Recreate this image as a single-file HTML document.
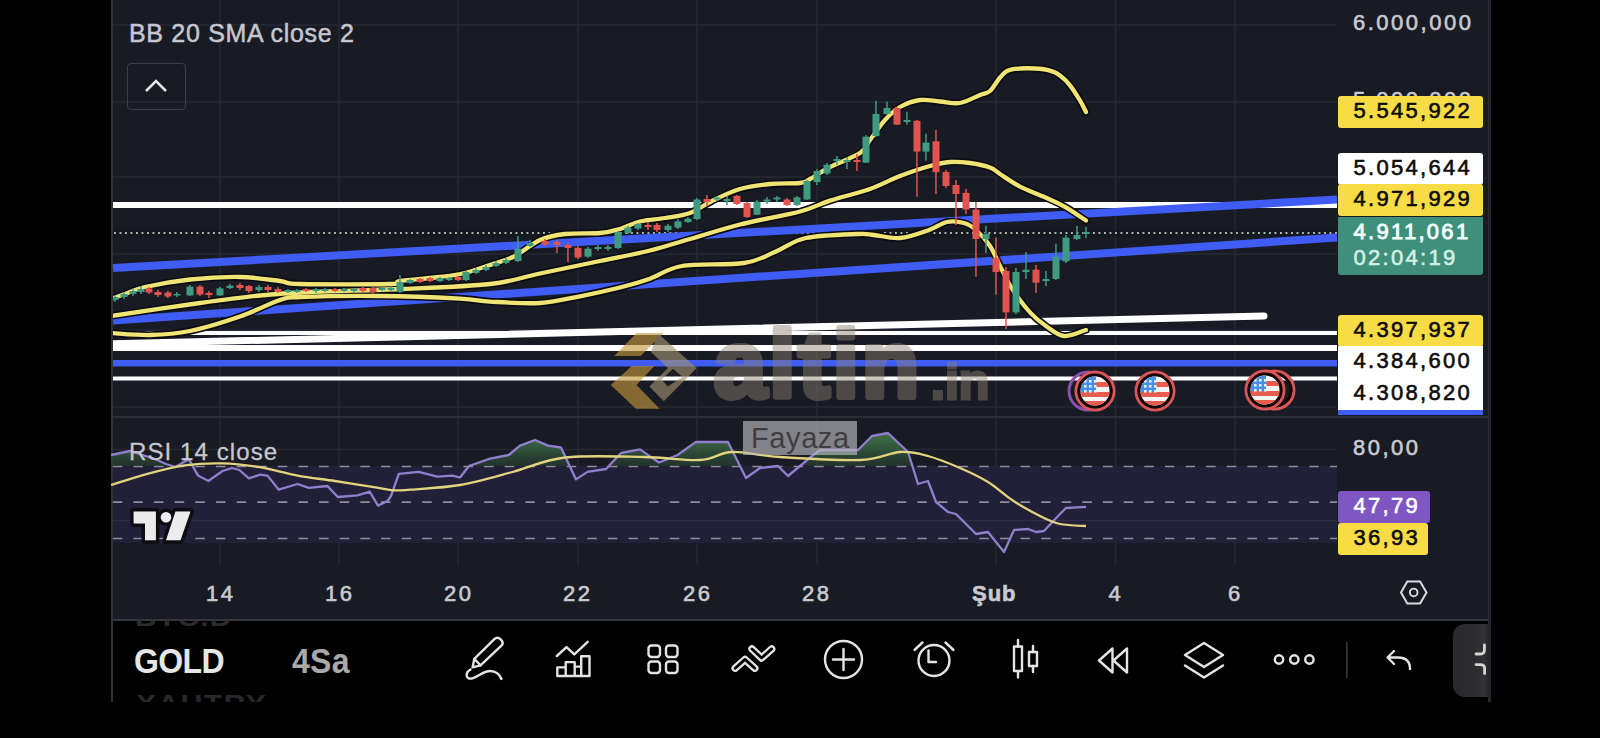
<!DOCTYPE html>
<html><head><meta charset="utf-8">
<style>
*{margin:0;padding:0;box-sizing:border-box}
html,body{width:1600px;height:738px;background:#000;overflow:hidden;font-family:"Liberation Sans",sans-serif}
.abs{position:absolute}
.t{position:absolute;white-space:nowrap;line-height:1}
.ax{color:#c9cad0;font-size:22px;letter-spacing:2.5px;-webkit-text-stroke:0.6px currentColor}
.lab{position:absolute;left:1338px;width:145px;height:32px;border-radius:3px;font-size:22px;color:#0c0c0c;padding-left:15.5px;line-height:29px;letter-spacing:2.3px;-webkit-text-stroke:0.6px currentColor}
</style></head><body>
<svg class="abs" style="left:0;top:0" width="1600" height="738" viewBox="0 0 1600 738">
  <defs>
    <clipPath id="chartclip"><rect x="113" y="0" width="1224" height="416"/></clipPath>
    <linearGradient id="gfill" x1="0" y1="440" x2="0" y2="466" gradientUnits="userSpaceOnUse">
      <stop offset="0" stop-color="#3d6b45" stop-opacity="0.95"/>
      <stop offset="1" stop-color="#2c4a36" stop-opacity="0.5"/>
    </linearGradient>
  </defs>
  <rect x="111" y="0" width="1380" height="619" fill="#181a24"/>
  <!-- panel borders -->
  <rect x="111" y="0" width="2" height="702" fill="#303137"/>
  <rect x="1488" y="0" width="3" height="702" fill="#26262c"/>
  <!-- grid -->
  <g stroke="#262833" stroke-width="1.5">
    <line x1="113" y1="25" x2="1337" y2="25"/>
    <line x1="113" y1="102" x2="1337" y2="102"/>
    <line x1="113" y1="177" x2="1337" y2="177"/>
    <line x1="113" y1="254" x2="1337" y2="254"/>
    <line x1="113" y1="330" x2="1337" y2="330"/>
    <line x1="113" y1="407" x2="1337" y2="407"/>
    <line x1="113" y1="449.5" x2="1337" y2="449.5"/>
    <line x1="220" y1="0" x2="220" y2="565"/>
    <line x1="339" y1="0" x2="339" y2="565"/>
    <line x1="458" y1="0" x2="458" y2="565"/>
    <line x1="578" y1="0" x2="578" y2="565"/>
    <line x1="697" y1="0" x2="697" y2="565"/>
    <line x1="817" y1="0" x2="817" y2="565"/>
    <line x1="996" y1="0" x2="996" y2="565"/>
    <line x1="1115.5" y1="0" x2="1115.5" y2="565"/>
    <line x1="1235" y1="0" x2="1235" y2="565"/>
  </g>
  <!-- pane separator -->
  <rect x="113" y="416" width="1375" height="2" fill="#2a2c36"/>
  <!-- RSI band -->
  <rect x="113" y="466" width="1224" height="77" fill="#222038"/>
  <line x1="113" y1="520.5" x2="1337" y2="520.5" stroke="#2e2c48" stroke-width="1.5"/>
  <g stroke="#8f8d9c" stroke-width="1.7" stroke-dasharray="9.5 11.13">
    <line x1="112.8" y1="466.5" x2="1337" y2="466.5"/>
    <line x1="112.8" y1="502.2" x2="1337" y2="502.2"/>
    <line x1="112.8" y1="538.5" x2="1337" y2="538.5"/>
  </g>
  <!-- horizontal drawings -->
  <rect x="113" y="202" width="1224" height="6" fill="#fff"/>
  <rect x="113" y="331" width="1224" height="4" fill="#fff"/>
  <rect x="113" y="345" width="1224" height="6" fill="#fff"/>
  <rect x="113" y="360" width="1224" height="6.5" fill="#3f5cf5"/>
  <rect x="113" y="376.5" width="1224" height="4" fill="#fff"/>
  <!-- diagonal white -->
  <line x1="104" y1="344" x2="1264" y2="316" stroke="#fff" stroke-width="7" stroke-linecap="round"/>
  <rect x="0" y="300" width="113" height="60" fill="#000"/>
  <rect x="111" y="300" width="2" height="60" fill="#303137"/>
  <!-- current price dotted -->
  <line x1="113" y1="233" x2="1337" y2="233" stroke="#11151a" stroke-opacity="0.5" stroke-width="7"/><line x1="114" y1="233" x2="1337" y2="233" stroke="#a9bbb4" stroke-width="1.9" stroke-dasharray="1.9 3.6"/>
  <!-- blue diagonals -->
  <line x1="113" y1="268" x2="1337" y2="199.5" stroke="#3f5cf5" stroke-width="8"/>
  <line x1="113" y1="320.5" x2="1337" y2="237.5" stroke="#3f5cf5" stroke-width="8"/>
  <g clip-path="url(#chartclip)">
<g fill="none" stroke-linejoin="round" stroke-linecap="round">
<path d="M111.0,333.0 C117.5,333.3 136.8,335.3 150.0,335.0 C163.2,334.7 175.0,334.1 190.0,331.0 C205.0,327.9 225.0,321.7 240.0,316.5 C255.0,311.3 270.0,303.2 280.0,300.0 C290.0,296.8 283.3,297.7 300.0,297.0 C316.7,296.3 353.3,295.7 380.0,296.0 C406.7,296.3 441.7,297.7 460.0,298.6 C478.3,299.5 476.7,300.9 490.0,301.6 C503.3,302.3 525.0,303.9 540.0,303.0 C555.0,302.1 566.7,298.9 580.0,296.3 C593.3,293.7 608.3,290.4 620.0,287.5 C631.7,284.6 639.7,282.3 650.0,278.7 C660.3,275.1 666.3,268.6 682.0,266.0 C697.7,263.4 728.3,265.4 744.0,263.0 C759.7,260.6 765.7,255.7 776.0,251.5 C786.3,247.3 792.3,240.9 806.0,238.0 C819.7,235.1 846.7,234.5 858.0,234.0 C869.3,233.5 867.0,234.3 874.0,235.0 C881.0,235.7 890.8,238.8 900.0,238.0 C909.2,237.2 921.2,232.7 929.0,230.0 C936.8,227.3 941.2,223.2 947.0,222.0 C952.8,220.8 959.2,221.7 964.0,223.0 C968.8,224.3 971.7,226.2 976.0,230.0 C980.3,233.8 985.7,239.3 990.0,246.0 C994.3,252.7 998.3,262.9 1002.0,270.0 C1005.7,277.1 1007.3,281.5 1012.0,288.6 C1016.7,295.7 1024.3,306.2 1030.0,312.4 C1035.7,318.6 1040.3,322.1 1046.0,326.0 C1051.7,329.9 1057.3,335.3 1064.0,336.0 C1070.7,336.7 1082.3,331.0 1086.0,330.0" stroke="#0b0b12" stroke-width="7.5"/>
<path d="M111.0,316.0 C125.8,313.8 175.2,306.4 200.0,303.0 C224.8,299.6 241.7,297.3 260.0,295.5 C278.3,293.7 286.7,293.1 310.0,292.0 C333.3,290.9 370.0,290.3 400.0,289.0 C430.0,287.7 466.7,286.6 490.0,284.0 C513.3,281.4 521.7,277.3 540.0,273.5 C558.3,269.7 581.7,264.8 600.0,261.0 C618.3,257.2 635.0,254.2 650.0,250.5 C665.0,246.8 675.0,243.3 690.0,239.0 C705.0,234.7 721.7,229.1 740.0,224.5 C758.3,219.9 785.0,215.5 800.0,211.5 C815.0,207.5 818.3,204.3 830.0,200.6 C841.7,196.8 858.3,193.1 870.0,189.0 C881.7,184.9 890.0,179.8 900.0,176.0 C910.0,172.2 921.7,168.3 930.0,166.0 C938.3,163.7 943.3,162.5 950.0,162.0 C956.7,161.5 963.3,162.1 970.0,163.0 C976.7,163.9 985.0,165.7 990.0,167.5 C995.0,169.3 995.0,170.8 1000.0,174.0 C1005.0,177.2 1012.5,182.7 1020.0,186.6 C1027.5,190.5 1037.5,193.9 1045.0,197.3 C1052.5,200.7 1058.2,202.9 1065.0,206.8 C1071.8,210.7 1082.5,218.2 1086.0,220.5" stroke="#0b0b12" stroke-width="7.5"/>
<path d="M111.0,299.0 C113.3,298.2 119.3,296.0 125.0,294.0 C130.7,292.0 134.2,289.4 145.0,287.0 C155.8,284.6 174.2,281.2 190.0,279.5 C205.8,277.8 225.0,276.8 240.0,277.0 C255.0,277.2 270.0,279.8 280.0,281.0 C290.0,282.2 281.7,283.5 300.0,284.0 C318.3,284.5 373.3,284.5 390.0,284.0 C406.7,283.5 391.7,282.2 400.0,281.0 C408.3,279.8 429.2,278.3 440.0,277.0 C450.8,275.7 456.7,275.0 465.0,273.0 C473.3,271.0 481.7,267.8 490.0,265.0 C498.3,262.2 506.7,260.2 515.0,256.0 C523.3,251.8 531.7,243.7 540.0,240.0 C548.3,236.3 555.0,235.2 565.0,234.0 C575.0,232.8 590.8,233.8 600.0,233.0 C609.2,232.2 613.3,230.9 620.0,229.0 C626.7,227.1 632.5,223.3 640.0,221.5 C647.5,219.7 656.7,219.4 665.0,218.0 C673.3,216.6 682.2,215.8 690.0,213.0 C697.8,210.2 703.7,205.0 712.0,201.0 C720.3,197.0 730.3,191.8 740.0,189.0 C749.7,186.2 760.0,185.0 770.0,184.0 C780.0,183.0 793.3,183.8 800.0,183.0 C806.7,182.2 805.0,181.7 810.0,179.0 C815.0,176.3 821.7,171.3 830.0,167.0 C838.3,162.7 853.3,157.5 860.0,153.0 C866.7,148.5 865.8,145.5 870.0,140.0 C874.2,134.5 880.0,125.5 885.0,120.0 C890.0,114.5 894.2,110.3 900.0,107.0 C905.8,103.7 913.3,100.9 920.0,100.0 C926.7,99.1 933.3,101.0 940.0,101.5 C946.7,102.0 953.3,104.1 960.0,103.0 C966.7,101.9 975.0,97.0 980.0,95.0 C985.0,93.0 986.7,93.9 990.0,91.0 C993.3,88.1 997.0,80.9 1000.0,77.5 C1003.0,74.1 1004.7,72.0 1008.0,70.5 C1011.3,69.0 1015.5,68.8 1020.0,68.5 C1024.5,68.2 1030.0,68.2 1035.0,68.5 C1040.0,68.8 1045.8,69.4 1050.0,70.6 C1054.2,71.8 1056.7,73.0 1060.0,75.4 C1063.3,77.9 1066.7,81.1 1070.0,85.3 C1073.3,89.5 1077.3,96.0 1080.0,100.5 C1082.7,105.0 1085.0,110.1 1086.0,112.0" stroke="#0b0b12" stroke-width="7.5"/>
<path d="M111.0,333.0 C117.5,333.3 136.8,335.3 150.0,335.0 C163.2,334.7 175.0,334.1 190.0,331.0 C205.0,327.9 225.0,321.7 240.0,316.5 C255.0,311.3 270.0,303.2 280.0,300.0 C290.0,296.8 283.3,297.7 300.0,297.0 C316.7,296.3 353.3,295.7 380.0,296.0 C406.7,296.3 441.7,297.7 460.0,298.6 C478.3,299.5 476.7,300.9 490.0,301.6 C503.3,302.3 525.0,303.9 540.0,303.0 C555.0,302.1 566.7,298.9 580.0,296.3 C593.3,293.7 608.3,290.4 620.0,287.5 C631.7,284.6 639.7,282.3 650.0,278.7 C660.3,275.1 666.3,268.6 682.0,266.0 C697.7,263.4 728.3,265.4 744.0,263.0 C759.7,260.6 765.7,255.7 776.0,251.5 C786.3,247.3 792.3,240.9 806.0,238.0 C819.7,235.1 846.7,234.5 858.0,234.0 C869.3,233.5 867.0,234.3 874.0,235.0 C881.0,235.7 890.8,238.8 900.0,238.0 C909.2,237.2 921.2,232.7 929.0,230.0 C936.8,227.3 941.2,223.2 947.0,222.0 C952.8,220.8 959.2,221.7 964.0,223.0 C968.8,224.3 971.7,226.2 976.0,230.0 C980.3,233.8 985.7,239.3 990.0,246.0 C994.3,252.7 998.3,262.9 1002.0,270.0 C1005.7,277.1 1007.3,281.5 1012.0,288.6 C1016.7,295.7 1024.3,306.2 1030.0,312.4 C1035.7,318.6 1040.3,322.1 1046.0,326.0 C1051.7,329.9 1057.3,335.3 1064.0,336.0 C1070.7,336.7 1082.3,331.0 1086.0,330.0" stroke="#f0e474" stroke-width="4.3"/>
<path d="M111.0,316.0 C125.8,313.8 175.2,306.4 200.0,303.0 C224.8,299.6 241.7,297.3 260.0,295.5 C278.3,293.7 286.7,293.1 310.0,292.0 C333.3,290.9 370.0,290.3 400.0,289.0 C430.0,287.7 466.7,286.6 490.0,284.0 C513.3,281.4 521.7,277.3 540.0,273.5 C558.3,269.7 581.7,264.8 600.0,261.0 C618.3,257.2 635.0,254.2 650.0,250.5 C665.0,246.8 675.0,243.3 690.0,239.0 C705.0,234.7 721.7,229.1 740.0,224.5 C758.3,219.9 785.0,215.5 800.0,211.5 C815.0,207.5 818.3,204.3 830.0,200.6 C841.7,196.8 858.3,193.1 870.0,189.0 C881.7,184.9 890.0,179.8 900.0,176.0 C910.0,172.2 921.7,168.3 930.0,166.0 C938.3,163.7 943.3,162.5 950.0,162.0 C956.7,161.5 963.3,162.1 970.0,163.0 C976.7,163.9 985.0,165.7 990.0,167.5 C995.0,169.3 995.0,170.8 1000.0,174.0 C1005.0,177.2 1012.5,182.7 1020.0,186.6 C1027.5,190.5 1037.5,193.9 1045.0,197.3 C1052.5,200.7 1058.2,202.9 1065.0,206.8 C1071.8,210.7 1082.5,218.2 1086.0,220.5" stroke="#f0e474" stroke-width="4.3"/>
<path d="M111.0,299.0 C113.3,298.2 119.3,296.0 125.0,294.0 C130.7,292.0 134.2,289.4 145.0,287.0 C155.8,284.6 174.2,281.2 190.0,279.5 C205.8,277.8 225.0,276.8 240.0,277.0 C255.0,277.2 270.0,279.8 280.0,281.0 C290.0,282.2 281.7,283.5 300.0,284.0 C318.3,284.5 373.3,284.5 390.0,284.0 C406.7,283.5 391.7,282.2 400.0,281.0 C408.3,279.8 429.2,278.3 440.0,277.0 C450.8,275.7 456.7,275.0 465.0,273.0 C473.3,271.0 481.7,267.8 490.0,265.0 C498.3,262.2 506.7,260.2 515.0,256.0 C523.3,251.8 531.7,243.7 540.0,240.0 C548.3,236.3 555.0,235.2 565.0,234.0 C575.0,232.8 590.8,233.8 600.0,233.0 C609.2,232.2 613.3,230.9 620.0,229.0 C626.7,227.1 632.5,223.3 640.0,221.5 C647.5,219.7 656.7,219.4 665.0,218.0 C673.3,216.6 682.2,215.8 690.0,213.0 C697.8,210.2 703.7,205.0 712.0,201.0 C720.3,197.0 730.3,191.8 740.0,189.0 C749.7,186.2 760.0,185.0 770.0,184.0 C780.0,183.0 793.3,183.8 800.0,183.0 C806.7,182.2 805.0,181.7 810.0,179.0 C815.0,176.3 821.7,171.3 830.0,167.0 C838.3,162.7 853.3,157.5 860.0,153.0 C866.7,148.5 865.8,145.5 870.0,140.0 C874.2,134.5 880.0,125.5 885.0,120.0 C890.0,114.5 894.2,110.3 900.0,107.0 C905.8,103.7 913.3,100.9 920.0,100.0 C926.7,99.1 933.3,101.0 940.0,101.5 C946.7,102.0 953.3,104.1 960.0,103.0 C966.7,101.9 975.0,97.0 980.0,95.0 C985.0,93.0 986.7,93.9 990.0,91.0 C993.3,88.1 997.0,80.9 1000.0,77.5 C1003.0,74.1 1004.7,72.0 1008.0,70.5 C1011.3,69.0 1015.5,68.8 1020.0,68.5 C1024.5,68.2 1030.0,68.2 1035.0,68.5 C1040.0,68.8 1045.8,69.4 1050.0,70.6 C1054.2,71.8 1056.7,73.0 1060.0,75.4 C1063.3,77.9 1066.7,81.1 1070.0,85.3 C1073.3,89.5 1077.3,96.0 1080.0,100.5 C1082.7,105.0 1085.0,110.1 1086.0,112.0" stroke="#f0e474" stroke-width="4.3"/>
</g>
<rect x="114.2" y="295.0" width="1.5" height="7.0" fill="#3f9a80"/>
<rect x="111.5" y="297.0" width="7" height="3.0" fill="#3f9a80"/>
<rect x="123.2" y="292.0" width="1.5" height="7.0" fill="#3f9a80"/>
<rect x="120.5" y="294.0" width="7" height="3.0" fill="#3f9a80"/>
<rect x="132.2" y="288.0" width="1.5" height="8.0" fill="#3f9a80"/>
<rect x="129.5" y="291.0" width="7" height="3.0" fill="#3f9a80"/>
<rect x="140.2" y="286.0" width="1.5" height="8.0" fill="#3f9a80"/>
<rect x="137.5" y="289.0" width="7" height="3.0" fill="#3f9a80"/>
<rect x="148.2" y="287.0" width="1.5" height="7.0" fill="#e0534f"/>
<rect x="145.5" y="288.5" width="7" height="4.0" fill="#e0534f"/>
<rect x="157.2" y="290.0" width="1.5" height="7.0" fill="#e0534f"/>
<rect x="154.5" y="292.0" width="7" height="3.0" fill="#e0534f"/>
<rect x="167.2" y="291.0" width="1.5" height="7.0" fill="#e0534f"/>
<rect x="164.5" y="292.5" width="7" height="4.0" fill="#e0534f"/>
<rect x="176.2" y="292.0" width="1.5" height="5.0" fill="#3f9a80"/>
<rect x="173.5" y="294.0" width="7" height="1.5" fill="#3f9a80"/>
<rect x="189.2" y="285.0" width="1.5" height="11.0" fill="#3f9a80"/>
<rect x="186.5" y="286.6" width="7" height="8.8" fill="#3f9a80"/>
<rect x="199.2" y="285.0" width="1.5" height="11.0" fill="#e0534f"/>
<rect x="196.5" y="286.6" width="7" height="7.9" fill="#e0534f"/>
<rect x="208.2" y="291.0" width="1.5" height="7.0" fill="#e0534f"/>
<rect x="205.5" y="293.0" width="7" height="2.0" fill="#e0534f"/>
<rect x="219.2" y="287.0" width="1.5" height="9.0" fill="#3f9a80"/>
<rect x="216.5" y="288.4" width="7" height="7.0" fill="#3f9a80"/>
<rect x="229.2" y="284.0" width="1.5" height="5.0" fill="#3f9a80"/>
<rect x="226.5" y="285.7" width="7" height="2.3" fill="#3f9a80"/>
<rect x="239.2" y="283.0" width="1.5" height="7.0" fill="#e0534f"/>
<rect x="236.5" y="285.0" width="7" height="3.0" fill="#e0534f"/>
<rect x="248.2" y="285.0" width="1.5" height="8.0" fill="#e0534f"/>
<rect x="245.5" y="286.0" width="7" height="5.0" fill="#e0534f"/>
<rect x="258.2" y="285.0" width="1.5" height="7.0" fill="#3f9a80"/>
<rect x="255.5" y="287.0" width="7" height="3.0" fill="#3f9a80"/>
<rect x="267.2" y="285.0" width="1.5" height="7.0" fill="#e0534f"/>
<rect x="264.5" y="287.0" width="7" height="3.0" fill="#e0534f"/>
<rect x="277.2" y="287.0" width="1.5" height="6.0" fill="#e0534f"/>
<rect x="274.5" y="289.0" width="7" height="3.0" fill="#e0534f"/>
<rect x="287.2" y="289.0" width="1.5" height="4.0" fill="#3f9a80"/>
<rect x="284.5" y="290.0" width="7" height="2.0" fill="#3f9a80"/>
<rect x="296.2" y="289.0" width="1.5" height="4.0" fill="#3f9a80"/>
<rect x="293.5" y="290.0" width="7" height="2.0" fill="#3f9a80"/>
<rect x="305.2" y="288.0" width="1.5" height="4.0" fill="#e0534f"/>
<rect x="302.5" y="289.0" width="7" height="2.0" fill="#e0534f"/>
<rect x="315.2" y="288.0" width="1.5" height="5.0" fill="#3f9a80"/>
<rect x="312.5" y="289.0" width="7" height="2.0" fill="#3f9a80"/>
<rect x="324.2" y="288.0" width="1.5" height="4.0" fill="#3f9a80"/>
<rect x="321.5" y="289.0" width="7" height="2.0" fill="#3f9a80"/>
<rect x="334.2" y="288.0" width="1.5" height="4.0" fill="#e0534f"/>
<rect x="331.5" y="289.0" width="7" height="2.0" fill="#e0534f"/>
<rect x="343.2" y="288.0" width="1.5" height="4.0" fill="#3f9a80"/>
<rect x="340.5" y="289.0" width="7" height="2.0" fill="#3f9a80"/>
<rect x="353.2" y="288.0" width="1.5" height="4.0" fill="#3f9a80"/>
<rect x="350.5" y="289.0" width="7" height="2.0" fill="#3f9a80"/>
<rect x="362.2" y="287.0" width="1.5" height="5.0" fill="#e0534f"/>
<rect x="359.5" y="288.0" width="7" height="3.0" fill="#e0534f"/>
<rect x="372.2" y="287.0" width="1.5" height="7.0" fill="#e0534f"/>
<rect x="369.5" y="288.0" width="7" height="4.0" fill="#e0534f"/>
<rect x="381.2" y="287.0" width="1.5" height="4.0" fill="#3f9a80"/>
<rect x="378.5" y="288.0" width="7" height="2.0" fill="#3f9a80"/>
<rect x="390.2" y="286.0" width="1.5" height="5.0" fill="#3f9a80"/>
<rect x="387.5" y="288.0" width="7" height="2.0" fill="#3f9a80"/>
<rect x="399.2" y="275.0" width="1.5" height="18.0" fill="#3f9a80"/>
<rect x="396.5" y="282.0" width="7" height="10.0" fill="#3f9a80"/>
<rect x="409.2" y="279.0" width="1.5" height="5.0" fill="#3f9a80"/>
<rect x="406.5" y="280.0" width="7" height="3.0" fill="#3f9a80"/>
<rect x="419.2" y="278.0" width="1.5" height="5.0" fill="#e0534f"/>
<rect x="416.5" y="279.0" width="7" height="3.0" fill="#e0534f"/>
<rect x="429.2" y="277.0" width="1.5" height="5.0" fill="#e0534f"/>
<rect x="426.5" y="278.0" width="7" height="3.0" fill="#e0534f"/>
<rect x="439.2" y="277.0" width="1.5" height="5.0" fill="#3f9a80"/>
<rect x="436.5" y="278.0" width="7" height="3.0" fill="#3f9a80"/>
<rect x="448.2" y="277.0" width="1.5" height="4.0" fill="#3f9a80"/>
<rect x="445.5" y="278.0" width="7" height="2.0" fill="#3f9a80"/>
<rect x="457.2" y="276.0" width="1.5" height="5.0" fill="#e0534f"/>
<rect x="454.5" y="277.0" width="7" height="3.0" fill="#e0534f"/>
<rect x="465.2" y="271.0" width="1.5" height="10.0" fill="#3f9a80"/>
<rect x="462.5" y="272.0" width="7" height="8.0" fill="#3f9a80"/>
<rect x="475.2" y="268.0" width="1.5" height="6.0" fill="#3f9a80"/>
<rect x="472.5" y="270.0" width="7" height="3.0" fill="#3f9a80"/>
<rect x="485.2" y="265.0" width="1.5" height="6.0" fill="#3f9a80"/>
<rect x="482.5" y="267.0" width="7" height="3.0" fill="#3f9a80"/>
<rect x="495.2" y="261.0" width="1.5" height="6.0" fill="#3f9a80"/>
<rect x="492.5" y="263.0" width="7" height="3.0" fill="#3f9a80"/>
<rect x="505.2" y="258.0" width="1.5" height="6.0" fill="#3f9a80"/>
<rect x="502.5" y="260.0" width="7" height="3.0" fill="#3f9a80"/>
<rect x="517.2" y="236.0" width="1.5" height="26.0" fill="#3f9a80"/>
<rect x="514.5" y="248.7" width="7" height="12.3" fill="#3f9a80"/>
<rect x="529.2" y="240.0" width="1.5" height="7.0" fill="#3f9a80"/>
<rect x="526.5" y="243.0" width="7" height="3.0" fill="#3f9a80"/>
<rect x="544.2" y="239.0" width="1.5" height="7.0" fill="#e0534f"/>
<rect x="541.5" y="240.8" width="7" height="3.5" fill="#e0534f"/>
<rect x="556.2" y="240.0" width="1.5" height="13.0" fill="#e0534f"/>
<rect x="553.5" y="242.0" width="7" height="3.0" fill="#e0534f"/>
<rect x="567.2" y="243.0" width="1.5" height="19.0" fill="#e0534f"/>
<rect x="564.5" y="245.0" width="7" height="3.0" fill="#e0534f"/>
<rect x="577.2" y="246.0" width="1.5" height="13.0" fill="#e0534f"/>
<rect x="574.5" y="247.8" width="7" height="9.7" fill="#e0534f"/>
<rect x="587.2" y="247.0" width="1.5" height="11.0" fill="#3f9a80"/>
<rect x="584.5" y="248.7" width="7" height="7.9" fill="#3f9a80"/>
<rect x="597.2" y="245.0" width="1.5" height="6.0" fill="#3f9a80"/>
<rect x="594.5" y="247.0" width="7" height="2.0" fill="#3f9a80"/>
<rect x="607.2" y="245.0" width="1.5" height="6.0" fill="#3f9a80"/>
<rect x="604.5" y="247.0" width="7" height="2.0" fill="#3f9a80"/>
<rect x="617.2" y="231.0" width="1.5" height="18.0" fill="#3f9a80"/>
<rect x="614.5" y="232.0" width="7" height="16.0" fill="#3f9a80"/>
<rect x="627.2" y="226.0" width="1.5" height="8.0" fill="#3f9a80"/>
<rect x="624.5" y="227.6" width="7" height="5.4" fill="#3f9a80"/>
<rect x="637.2" y="223.0" width="1.5" height="7.0" fill="#3f9a80"/>
<rect x="634.5" y="224.0" width="7" height="4.5" fill="#3f9a80"/>
<rect x="647.2" y="222.0" width="1.5" height="8.0" fill="#e0534f"/>
<rect x="644.5" y="225.0" width="7" height="2.0" fill="#e0534f"/>
<rect x="656.2" y="223.0" width="1.5" height="9.0" fill="#e0534f"/>
<rect x="653.5" y="225.0" width="7" height="5.0" fill="#e0534f"/>
<rect x="667.2" y="224.0" width="1.5" height="8.0" fill="#3f9a80"/>
<rect x="664.5" y="225.8" width="7" height="4.2" fill="#3f9a80"/>
<rect x="677.2" y="219.0" width="1.5" height="10.0" fill="#3f9a80"/>
<rect x="674.5" y="221.4" width="7" height="6.2" fill="#3f9a80"/>
<rect x="687.2" y="217.0" width="1.5" height="6.0" fill="#3f9a80"/>
<rect x="684.5" y="218.8" width="7" height="3.2" fill="#3f9a80"/>
<rect x="696.2" y="198.0" width="1.5" height="22.0" fill="#3f9a80"/>
<rect x="693.5" y="199.5" width="7" height="19.5" fill="#3f9a80"/>
<rect x="706.2" y="195.0" width="1.5" height="11.0" fill="#e0534f"/>
<rect x="703.5" y="199.0" width="7" height="3.0" fill="#e0534f"/>
<rect x="716.2" y="196.0" width="1.5" height="5.0" fill="#3f9a80"/>
<rect x="713.5" y="197.5" width="7" height="2.0" fill="#3f9a80"/>
<rect x="726.2" y="196.0" width="1.5" height="9.0" fill="#3f9a80"/>
<rect x="723.5" y="199.0" width="7" height="2.0" fill="#3f9a80"/>
<rect x="736.2" y="195.0" width="1.5" height="10.0" fill="#e0534f"/>
<rect x="733.5" y="196.0" width="7" height="8.0" fill="#e0534f"/>
<rect x="746.2" y="202.0" width="1.5" height="16.0" fill="#e0534f"/>
<rect x="743.5" y="203.0" width="7" height="14.0" fill="#e0534f"/>
<rect x="756.2" y="200.0" width="1.5" height="15.0" fill="#3f9a80"/>
<rect x="753.5" y="201.7" width="7" height="13.0" fill="#3f9a80"/>
<rect x="766.2" y="197.0" width="1.5" height="7.0" fill="#3f9a80"/>
<rect x="763.5" y="199.5" width="7" height="2.0" fill="#3f9a80"/>
<rect x="776.2" y="196.0" width="1.5" height="6.0" fill="#3f9a80"/>
<rect x="773.5" y="197.5" width="7" height="2.0" fill="#3f9a80"/>
<rect x="786.2" y="198.0" width="1.5" height="8.0" fill="#e0534f"/>
<rect x="783.5" y="199.5" width="7" height="5.5" fill="#e0534f"/>
<rect x="796.2" y="196.0" width="1.5" height="10.0" fill="#3f9a80"/>
<rect x="793.5" y="197.4" width="7" height="7.6" fill="#3f9a80"/>
<rect x="806.2" y="180.0" width="1.5" height="20.0" fill="#3f9a80"/>
<rect x="803.5" y="181.0" width="7" height="18.5" fill="#3f9a80"/>
<rect x="816.2" y="169.0" width="1.5" height="16.0" fill="#3f9a80"/>
<rect x="813.5" y="171.0" width="7" height="11.0" fill="#3f9a80"/>
<rect x="826.2" y="163.0" width="1.5" height="12.0" fill="#3f9a80"/>
<rect x="823.5" y="164.8" width="7" height="8.7" fill="#3f9a80"/>
<rect x="836.2" y="156.0" width="1.5" height="9.0" fill="#3f9a80"/>
<rect x="833.5" y="159.0" width="7" height="2.0" fill="#3f9a80"/>
<rect x="846.2" y="157.0" width="1.5" height="12.0" fill="#3f9a80"/>
<rect x="843.5" y="160.0" width="7" height="2.0" fill="#3f9a80"/>
<rect x="856.2" y="154.0" width="1.5" height="17.0" fill="#e0534f"/>
<rect x="853.5" y="160.0" width="7" height="2.0" fill="#e0534f"/>
<rect x="865.2" y="135.0" width="1.5" height="28.0" fill="#3f9a80"/>
<rect x="862.5" y="136.6" width="7" height="26.1" fill="#3f9a80"/>
<rect x="875.2" y="100.8" width="1.5" height="36.2" fill="#3f9a80"/>
<rect x="872.5" y="113.9" width="7" height="22.1" fill="#3f9a80"/>
<rect x="886.2" y="101.5" width="1.5" height="13.5" fill="#3f9a80"/>
<rect x="883.5" y="108.0" width="7" height="6.0" fill="#3f9a80"/>
<rect x="896.2" y="107.0" width="1.5" height="18.0" fill="#e0534f"/>
<rect x="893.5" y="108.0" width="7" height="16.6" fill="#e0534f"/>
<rect x="906.2" y="111.7" width="1.5" height="12.9" fill="#3f9a80"/>
<rect x="903.5" y="120.0" width="7" height="2.0" fill="#3f9a80"/>
<rect x="916.2" y="120.0" width="1.5" height="76.7" fill="#e0534f"/>
<rect x="913.5" y="120.8" width="7" height="30.8" fill="#e0534f"/>
<rect x="925.2" y="133.6" width="1.5" height="27.0" fill="#3f9a80"/>
<rect x="922.5" y="142.6" width="7" height="9.0" fill="#3f9a80"/>
<rect x="935.2" y="129.8" width="1.5" height="64.2" fill="#e0534f"/>
<rect x="932.5" y="141.3" width="7" height="30.9" fill="#e0534f"/>
<rect x="945.2" y="170.0" width="1.5" height="18.0" fill="#e0534f"/>
<rect x="942.5" y="172.0" width="7" height="14.0" fill="#e0534f"/>
<rect x="955.2" y="180.0" width="1.5" height="45.0" fill="#e0534f"/>
<rect x="952.5" y="185.0" width="7" height="9.0" fill="#e0534f"/>
<rect x="965.2" y="189.0" width="1.5" height="25.0" fill="#e0534f"/>
<rect x="962.5" y="192.8" width="7" height="16.7" fill="#e0534f"/>
<rect x="975.2" y="202.0" width="1.5" height="74.8" fill="#e0534f"/>
<rect x="972.5" y="209.5" width="7" height="29.5" fill="#e0534f"/>
<rect x="985.2" y="225.8" width="1.5" height="27.2" fill="#3f9a80"/>
<rect x="982.5" y="234.0" width="7" height="5.0" fill="#3f9a80"/>
<rect x="995.2" y="237.6" width="1.5" height="57.0" fill="#e0534f"/>
<rect x="992.5" y="257.8" width="7" height="14.2" fill="#e0534f"/>
<rect x="1005.2" y="267.0" width="1.5" height="62.0" fill="#e0534f"/>
<rect x="1002.5" y="271.0" width="7" height="41.4" fill="#e0534f"/>
<rect x="1015.2" y="268.0" width="1.5" height="46.0" fill="#3f9a80"/>
<rect x="1012.5" y="272.0" width="7" height="40.4" fill="#3f9a80"/>
<rect x="1025.2" y="252.0" width="1.5" height="27.0" fill="#3f9a80"/>
<rect x="1022.5" y="269.7" width="7" height="2.3" fill="#3f9a80"/>
<rect x="1035.2" y="265.0" width="1.5" height="28.0" fill="#e0534f"/>
<rect x="1032.5" y="269.7" width="7" height="13.0" fill="#e0534f"/>
<rect x="1045.2" y="271.0" width="1.5" height="15.0" fill="#3f9a80"/>
<rect x="1042.5" y="279.0" width="7" height="2.0" fill="#3f9a80"/>
<rect x="1055.2" y="243.6" width="1.5" height="36.4" fill="#3f9a80"/>
<rect x="1052.5" y="256.6" width="7" height="22.4" fill="#3f9a80"/>
<rect x="1065.2" y="235.0" width="1.5" height="28.0" fill="#3f9a80"/>
<rect x="1062.5" y="237.6" width="7" height="23.8" fill="#3f9a80"/>
<rect x="1076.2" y="226.0" width="1.5" height="14.0" fill="#3f9a80"/>
<rect x="1073.5" y="235.0" width="7" height="4.0" fill="#3f9a80"/>
<rect x="1085.2" y="227.0" width="1.5" height="11.0" fill="#3f9a80"/>
<rect x="1082.5" y="232.0" width="7" height="2.0" fill="#3f9a80"/>
</g>
  
<polygon points="111.0,466.0 111.0,455.0 130.0,451.0 155.0,459.0 166.0,464.0 172.4,466.0" fill="url(#gfill)"/>
<polygon points="177.2,466.0 188.8,459.0 192.7,466.0" fill="url(#gfill)"/>
<polygon points="469.0,466.0 490.0,458.7 508.7,455.0 520.0,445.6 535.0,440.0 548.0,445.6 561.0,447.5 569.7,466.0" fill="url(#gfill)"/>
<polygon points="608.8,466.0 621.0,453.0 640.0,449.4 659.0,462.5 677.5,455.0 696.0,441.9 728.0,442.0 740.0,466.0" fill="url(#gfill)"/>
<polygon points="800.0,466.0 812.0,456.0 820.0,450.0 858.0,450.0 872.0,436.0 888.0,433.0 908.0,452.0 912.4,466.0" fill="url(#gfill)"/>
<polyline points="111.0,455.0 130.0,451.0 155.0,459.0 166.0,464.0 175.6,467.0 188.8,459.0 198.0,475.6 208.4,481.0 222.5,471.0 232.0,468.0 239.4,470.0 248.8,478.4 260.0,474.7 267.5,475.6 278.8,489.7 297.5,484.0 308.8,487.8 327.5,486.0 337.8,497.0 357.5,495.3 369.7,491.6 378.0,505.6 387.5,501.0 391.0,496.0 398.8,473.8 418.7,471.9 437.5,476.7 452.5,475.6 460.0,477.5 469.0,466.0 490.0,458.7 508.7,455.0 520.0,445.6 535.0,440.0 548.0,445.6 561.0,447.5 576.0,479.4 587.5,471.9 606.0,469.0 621.0,453.0 640.0,449.4 659.0,462.5 677.5,455.0 696.0,441.9 728.0,442.0 746.0,478.0 760.0,468.0 778.0,466.0 788.0,476.0 800.0,466.0 812.0,456.0 820.0,450.0 858.0,450.0 872.0,436.0 888.0,433.0 908.0,452.0 918.0,484.0 928.0,481.0 936.0,502.0 948.0,512.0 956.0,514.0 976.0,534.0 988.0,532.0 1004.0,552.0 1014.0,530.0 1028.0,529.0 1036.0,532.0 1044.0,531.0 1060.0,514.0 1066.0,508.0 1086.0,506.8" fill="none" stroke="#8f7fcc" stroke-width="2.3" stroke-linejoin="round"/>
<path d="M111.0,485.0 C117.1,483.1 135.2,477.1 147.5,473.8 C159.8,470.5 172.5,467.0 185.0,465.3 C197.5,463.6 210.0,463.1 222.5,463.4 C235.0,463.7 247.5,465.2 260.0,467.2 C272.5,469.2 285.0,473.3 297.5,475.6 C310.0,477.9 322.5,479.1 335.0,481.0 C347.5,482.9 362.9,485.3 372.5,486.9 C382.1,488.4 386.2,489.8 392.5,490.3 C398.8,490.8 398.8,490.6 410.0,489.7 C421.2,488.8 442.9,487.9 460.0,485.0 C477.1,482.1 495.0,476.6 512.5,472.0 C530.0,467.4 543.1,460.0 565.0,457.5 C586.9,455.0 621.5,456.6 644.0,457.0 C666.5,457.4 685.3,460.8 700.0,460.0 C714.7,459.2 718.7,452.5 732.0,452.0 C745.3,451.5 758.7,455.7 780.0,457.0 C801.3,458.3 840.0,460.8 860.0,460.0 C880.0,459.2 888.7,452.7 900.0,452.0 C911.3,451.3 918.0,453.3 928.0,456.0 C938.0,458.7 950.0,463.7 960.0,468.0 C970.0,472.3 979.3,476.7 988.0,482.0 C996.7,487.3 1003.3,494.3 1012.0,500.0 C1020.7,505.7 1032.0,512.0 1040.0,516.0 C1048.0,520.0 1052.3,522.3 1060.0,524.0 C1067.7,525.7 1081.7,525.7 1086.0,526.0" fill="none" stroke="#e2d47e" stroke-width="2.3"/>

  <!-- watermark -->
  <g opacity="0.62">
    <polygon points="636.6,332.9 663.7,332.9 640.6,355.9 614.2,355.9" fill="#c69a3c"/>
    <polygon points="631.8,366 654.2,366 636.6,385 659.6,408.7 635.9,408.7 610.8,385" fill="#c69a3c"/>
    <path d="M658,333.5 L696.8,368 L663.7,401.3 L649.4,386.4 L668,368 L651,352 Z M673,368.8 L682.6,376.9 L667.7,386.4 L661.6,379.6 Z" fill="#a59470" fill-rule="evenodd"/>
  </g>
  <g opacity="0.45"><text x="714" y="397" font-family="Liberation Sans" font-weight="bold" font-size="94" fill="#8c8270" stroke="#8c8270" stroke-width="6" stroke-linejoin="round" letter-spacing="3">altin</text>
  <text x="931" y="398.5" font-family="Liberation Sans" font-weight="bold" font-size="50" fill="#8c8270" stroke="#8c8270" stroke-width="3" letter-spacing="0">.in</text></g>
</svg>

<!-- Fayaza -->
<div class="abs" style="left:743px;top:421px;width:114px;height:34px;background:rgba(185,185,190,0.66)"></div>
<div class="t" style="left:751px;top:424px;font-size:29px;color:#3e3e42;letter-spacing:0.6px">Fayaza</div>

<!-- flags -->
<svg class="abs" style="left:0;top:0" width="1600" height="738">
  <defs>
    <clipPath id="fc"><circle cx="0" cy="0" r="14.5"/></clipPath>
    <g id="flag">
      <circle r="19" fill="none" stroke="#d9575a" stroke-width="3"/>
      <circle r="16" fill="none" stroke="#1a0505" stroke-width="3.2"/>
      <g clip-path="url(#fc)">
        <rect x="-15" y="-15" width="30" height="30" fill="#f4f4f4"/>
        <rect x="-15" y="-9" width="30" height="5" fill="#e85c50"/>
        <rect x="-15" y="1" width="30" height="5" fill="#e85c50"/>
        <rect x="-15" y="10" width="30" height="6" fill="#e85c50"/>
        <rect x="-15" y="-15" width="16" height="16" fill="#4a8fe6"/>
        <g fill="#dff0ff">
          <rect x="-11" y="-11" width="2.6" height="2.6"/><rect x="-6" y="-11" width="2.6" height="2.6"/><rect x="-1" y="-11" width="2.6" height="2.6"/>
          <rect x="-11" y="-6" width="2.6" height="2.6"/><rect x="-6" y="-6" width="2.6" height="2.6"/><rect x="-1" y="-6" width="2.6" height="2.6"/>
          <rect x="-11" y="-1" width="2.6" height="2.6"/><rect x="-6" y="-1" width="2.6" height="2.6"/><rect x="-1" y="-1" width="2.6" height="2.6"/>
        </g>
      </g>
    </g>
  </defs>
  <circle cx="1088" cy="391" r="19" fill="none" stroke="#8a4fb0" stroke-width="3"/>
  <use href="#flag" x="1095" y="391"/>
  <use href="#flag" x="1155" y="391"/>
  <circle cx="1275" cy="390" r="19" fill="none" stroke="#d9575a" stroke-width="3"/>
  <circle cx="1275" cy="390" r="16" fill="none" stroke="#1a0505" stroke-width="3"/>
  <use href="#flag" x="1265" y="390"/>
</svg>

<!-- texts -->
<div class="t" style="left:129px;top:20.5px;font-size:25px;color:#c6c7ce;letter-spacing:0.68px;-webkit-text-stroke:0.5px currentColor">BB 20 SMA close 2</div>
<div class="abs" style="left:127px;top:63px;width:59px;height:47px;border:1.5px solid #3c3f4a;border-radius:4px"></div>
<svg class="abs" style="left:144px;top:78px" width="24" height="16"><polyline points="2,13 12,3 22,13" fill="none" stroke="#e8e8ea" stroke-width="2.5"/></svg>

<div class="t ax" style="left:1353px;top:12px">6.000,000</div>
<div class="t ax" style="left:1353px;top:89px">5.000,000</div>
<div class="lab" style="top:96px;background:#f8dc45">5.545,922</div>
<div class="lab" style="top:153px;background:#fff">5.054,644</div>
<div class="lab" style="top:184px;background:#f8dc45">4.971,929</div>
<div class="lab" style="top:216.5px;height:58.5px;background:#3f8f7a;color:#d3f0e4;line-height:26px;padding-top:2px;border-radius:0 0 3px 3px"><span style="color:#f4fffa;-webkit-text-stroke:0.9px #f4fffa">4.911,061</span><br><span style="position:relative;top:0.5px">02:04:19</span></div>
<div class="lab" style="top:315px;background:#f8dc45">4.397,937</div>
<div class="lab" style="top:346px;background:#fff;border-radius:0">4.384,600</div>
<div class="lab" style="top:378px;background:#fff;border-radius:0">4.308,820</div>
<div class="abs" style="left:1338px;top:409.5px;width:145px;height:5.5px;background:#3f5cf5"></div>

<div class="t" style="left:129px;top:440px;font-size:24px;color:#c6c7ce;letter-spacing:1.1px;-webkit-text-stroke:0.3px currentColor">RSI 14 close</div>
<div class="t ax" style="left:1353px;top:436.5px">80,00</div>
<div class="lab" style="top:491px;width:92px;background:#7e57c2;color:#fff">47,79</div>
<div class="lab" style="top:522.5px;width:90px;background:#f8dc45">36,93</div>

<!-- TV logo -->
<svg class="abs" style="left:0;top:0" width="1600" height="738">
  <g stroke="#0b0b10" stroke-width="7" stroke-opacity="0.9" stroke-linejoin="round" fill="#ececec">
    <path d="M133.6,511.5 H155.9 V540.3 H145 V523.4 H133.6 Z"/>
    <circle cx="166" cy="517.3" r="5.3"/>
    <path d="M175.5,511.5 H190.5 L180.5,540.3 H166 Z"/>
  </g>
  <g fill="#ececec">
    <path d="M133.6,511.5 H155.9 V540.3 H145 V523.4 H133.6 Z"/>
    <circle cx="166" cy="517.3" r="5.3"/>
    <path d="M175.5,511.5 H190.5 L180.5,540.3 H166 Z"/>
  </g>
</svg>

<!-- dates -->
<div class="t ax" style="left:206px;top:582.5px">14</div>
<div class="t ax" style="left:325px;top:582.5px">16</div>
<div class="t ax" style="left:444px;top:582.5px">20</div>
<div class="t ax" style="left:563px;top:582.5px">22</div>
<div class="t ax" style="left:683px;top:582.5px">26</div>
<div class="t ax" style="left:802px;top:582.5px">28</div>
<div class="t ax" style="left:972px;top:582.5px;font-weight:bold;letter-spacing:1px">Şub</div>
<div class="t ax" style="left:1108.5px;top:582.5px">4</div>
<div class="t ax" style="left:1228px;top:582.5px">6</div>
<svg class="abs" style="left:1398px;top:578px" width="32" height="30">
  <polygon points="3,14.4 9.3,3.4 22.1,3.4 28.5,14.4 22.1,25.4 9.3,25.4" fill="none" stroke="#dcdce0" stroke-width="2"/>
  <circle cx="15.7" cy="14.4" r="3.8" fill="none" stroke="#dcdce0" stroke-width="1.9"/>
</svg>

<!-- toolbar -->
<div class="abs" style="left:113px;top:618.5px;width:1375px;height:2px;background:#36373e"></div>
<div class="t" style="left:135px;top:620px;font-size:30px;font-weight:bold;color:#2c2c2e;height:8px;overflow:hidden;line-height:1;letter-spacing:1.2px"><div style="margin-top:-14.5px;transform:scaleY(0.8);transform-origin:0 0">BTC.D</div></div>
<div class="t" style="left:134px;top:646px;font-size:32px;font-weight:bold;color:#e6e6e6;letter-spacing:-0.6px;transform:scaleY(1.1);transform-origin:0 26px">GOLD</div>
<div class="t" style="left:292px;top:646px;font-size:32px;font-weight:bold;color:#a9a9a9;letter-spacing:0.3px;transform:scaleY(1.1);transform-origin:0 26px">4Sa</div>
<div class="t" style="left:136px;top:692px;font-size:30px;font-weight:bold;color:#28282a;height:9.5px;overflow:hidden;line-height:1;letter-spacing:1.5px"><div style="margin-top:0px;transform:scaleY(0.8);transform-origin:0 0">XAUTRY</div></div>

<svg class="abs" style="left:0;top:0" width="1600" height="738">
  <g fill="none" stroke="#e4e4e6" stroke-width="2.4" stroke-linecap="round" stroke-linejoin="round">
    <!-- pencil -->
    <path d="M494.6,638.9 Q497.5,636.3 500.6,639.4 L501.6,640.4 Q504,643.3 501.1,645.8 L480.5,665.4 L472.6,667.4 L474.3,658.8 Z"/>
    <path d="M474.3,658.8 L480.5,665.4"/>
    <path d="M470.5,669.5 C465,672.5 465.5,679.5 471.5,678.5 C477.5,677.5 483,671 490,671 C496,671 500,675 501.5,679"/>
    <!-- chart -->
    <path d="M556.8,656 L566.5,647.1 L574.3,654.4 L587.7,641.8"/>
    <path d="M557.3,676 V667.4 H565.7 V662.1 H574.7 V666.6 H581.2 V656.3 H589.5 V676 Z M565.7,667.4 V676 M574.7,666.6 V676 M581.2,666.6 V676"/>
    <!-- grid -->
    <rect x="648.5" y="645.5" width="11.5" height="11.5" rx="3"/>
    <rect x="666" y="645.5" width="11.5" height="11.5" rx="3"/>
    <rect x="648.5" y="661.5" width="11.5" height="11.5" rx="3"/>
    <rect x="666" y="661.5" width="11.5" height="11.5" rx="3"/>
    <!-- wave -->
    </g>
    <g fill="none" stroke-linecap="round" stroke-linejoin="round">
    <path d="M735.2,668.2 L745,659.4 L754.8,668.2 M752,648.9 L761.6,658 L771.7,648.9" stroke="#e4e4e6" stroke-width="7.4"/>
    <path d="M735.2,668.2 L745,659.4 L754.8,668.2 M752,648.9 L761.6,658 L771.7,648.9" stroke="#000" stroke-width="2.8"/>
    </g>
    <g fill="none" stroke="#e4e4e6" stroke-width="2.4" stroke-linecap="round" stroke-linejoin="round">
    <!-- plus circle -->
    <circle cx="843.5" cy="659.5" r="18.5"/>
    <path d="M833,659.5 H854 M843.5,649 V670"/>
    <!-- alarm -->
    <circle cx="934" cy="660.5" r="15.5"/>
    <path d="M928.5,650.5 V662 H936"/>
    <path d="M914.5,650 L922.5,642.5 M945.5,642.5 L953.5,650"/>
    <!-- candles -->
    <rect x="1014" y="646.5" width="8" height="24.5"/>
    <path d="M1018,640 V646.5 M1018,671 V677.5"/>
    <rect x="1029" y="652" width="8" height="14"/>
    <path d="M1033,646 V652 M1033,666 V672"/>
    <!-- rewind -->
    <path d="M1112.5,648.5 L1099,660.5 L1112.5,672.5 Z M1127,648.5 L1113.5,660.5 L1127,672.5 Z"/>
    <!-- layers -->
    <path d="M1204,643 L1223,655 L1204,667 L1185,655 Z"/>
    <path d="M1185,665.5 L1204,677.5 L1223,665.5"/>
    <!-- dots -->
    <circle cx="1279" cy="659.5" r="4.2"/>
    <circle cx="1294.3" cy="659.5" r="4.2"/>
    <circle cx="1309.4" cy="659.5" r="4.2"/>
    <!-- undo -->
    <path d="M1387.5,657.5 L1394,651 M1387.5,657.5 L1394,664 M1388,657.5 H1398 Q1410,657.5 1410,669"/>
  </g>
  <rect x="1346" y="642" width="1.6" height="36" fill="#3a3a3e"/>
</svg>

<div class="abs" style="left:1452.5px;top:623.5px;width:36.5px;height:73px;background:linear-gradient(90deg,#2a2a2c 0%,#2c2c2e 60%,#333335 85%,#252527 100%);border-radius:12px 0 0 12px"></div>
<svg class="abs" style="left:1470px;top:640px" width="20" height="40">
  <path d="M14.4,5 V10 Q14.4,14 10.4,14 H6 M6,24.6 H10.4 Q14.6,24.6 14.6,28.6 V33.6" fill="none" stroke="#d4d4d4" stroke-width="2.8" stroke-linecap="round"/>
</svg>
</body></html>
